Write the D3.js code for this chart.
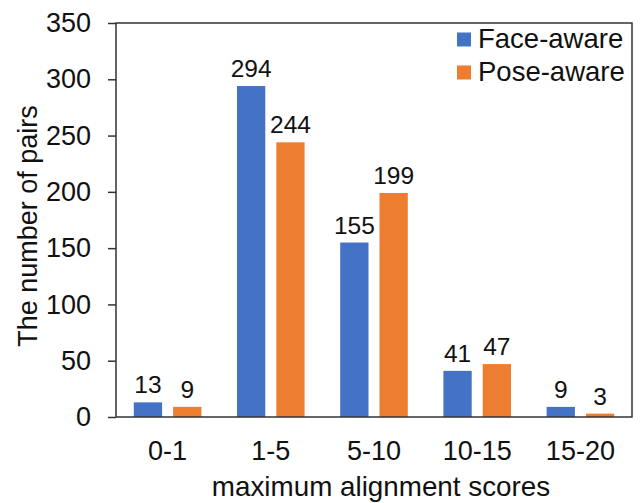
<!DOCTYPE html>
<html>
<head>
<meta charset="utf-8">
<script src="https://cdn.jsdelivr.net/npm/d3@7"></script>
<style>
  html, body { margin: 0; padding: 0; background: #fff; }
  svg { display: block; }
  text { font-family: "Liberation Sans", Arial, sans-serif; fill: #111; }
</style>
</head>
<body>
<svg id="chart" width="640" height="503"></svg>
<script>
const categories = ["0-1", "1-5", "5-10", "10-15", "15-20"];
const seriesNames = ["Face-aware", "Pose-aware"];
const faceAware = [13, 294, 155, 41, 9];
const poseAware = [9, 244, 199, 47, 3];
const yTicks = [0, 50, 100, 150, 200, 250, 300, 350];
const colors = ["#4472C4", "#ED7D31"];

(function () {
const seriesValues = [faceAware, poseAware];
const svg = d3.select("#chart");
const pLeft = 116, pRight = 632, pTop = 23, pBottom = 417;

const x0 = d3.scaleBand().domain(categories).range([pLeft, pRight]).padding(0);
const x1 = d3.scaleBand().domain(seriesNames).range([0, x0.bandwidth()])
  .paddingInner(0.28).paddingOuter(0.453);
const y = d3.scaleLinear().domain([0, 350]).range([pBottom, pTop]);

// bars
seriesNames.forEach((s, si) => {
  const g = svg.append("g");
  g.selectAll("rect").data(categories).enter().append("rect")
    .attr("x", c => x0(c) + x1(s))
    .attr("y", (c, i) => y(seriesValues[si][i]))
    .attr("width", x1.bandwidth())
    .attr("height", (c, i) => y(0) - y(seriesValues[si][i]))
    .attr("fill", colors[si]);
  g.selectAll("text").data(categories).enter().append("text")
    .attr("x", c => x0(c) + x1(s) + x1.bandwidth() / 2)
    .attr("y", (c, i) => y(seriesValues[si][i]) - 9)
    .attr("text-anchor", "middle")
    .attr("font-size", 24.5)
    .text((c, i) => seriesValues[si][i]);
});

// y axis
const yAxis = d3.axisLeft(y).tickValues(yTicks).tickSize(8).tickPadding(17);
const yg = svg.append("g").attr("transform", `translate(${pLeft},0)`).call(yAxis);
yg.select(".domain").remove();
yg.selectAll(".tick line").attr("stroke", "#333").attr("stroke-width", 1.5);
yg.selectAll(".tick text").attr("font-size", 27).attr("fill", "#111")
  .attr("font-family", "Liberation Sans, Arial, sans-serif");

// x axis labels
const xAxis = d3.axisBottom(x0).tickSize(0).tickPadding(24);
const xg = svg.append("g").attr("transform", `translate(0,${pBottom})`).call(xAxis);
xg.select(".domain").remove();
xg.selectAll(".tick text").attr("font-size", 27).attr("fill", "#111")
  .attr("font-family", "Liberation Sans, Arial, sans-serif");

// frame
svg.append("rect").attr("x", pLeft).attr("y", pTop)
  .attr("width", pRight - pLeft).attr("height", pBottom - pTop)
  .attr("fill", "none").attr("stroke", "#333").attr("stroke-width", 1.5);

// axis titles
svg.append("text").attr("x", 381).attr("y", 496)
  .attr("text-anchor", "middle").attr("font-size", 27.8)
  .text("maximum alignment scores");
svg.append("text")
  .attr("transform", "translate(37,226) rotate(-90)")
  .attr("text-anchor", "middle").attr("font-size", 27)
  .text("The number of pairs");

// legend
const leg = svg.append("g");
seriesNames.forEach((s, i) => {
  leg.append("rect").attr("x", 457).attr("y", 32.5 + i * 33)
    .attr("width", 14).attr("height", 14).attr("fill", colors[i]);
  leg.append("text").attr("x", 478).attr("y", 47.5 + i * 33)
    .attr("font-size", 27.5).text(s);
});
})();
</script>
</body>
</html>
